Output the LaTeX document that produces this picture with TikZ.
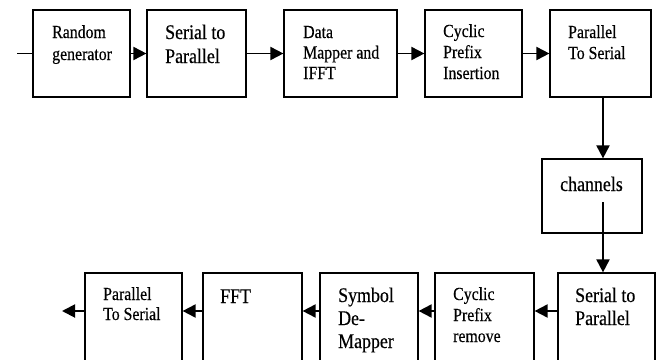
\documentclass[tikz,border=0pt]{standalone}
\usepackage{fontspec}
\setmainfont[FakeStretch=0.86,FakeBold=0.4]{Liberation Serif}
\usetikzlibrary{arrows.meta}

% stacked lines with the first baseline as the node's base
\newcommand\rows[1]{\vtop{#1}}

\begin{document}
\begin{tikzpicture}[x=1pt,y=-1pt,
  blk/.style={draw, line width=1.2pt, rectangle, inner sep=0pt},
  arr/.style={line width=1.9pt, -{Triangle[length=13pt,width=13pt]}},
  wire/.style={line width=1.3pt},
  txt/.style={anchor=base west, inner sep=0pt},
  small/.style={font=\fontsize{18.4}{21}\selectfont},
  big/.style={font=\fontsize{20.8}{24}\selectfont}]

\clip (0,0) rectangle (659,359);

% transmitter chain (top row)
\node[blk, minimum width=97pt,  minimum height=87pt] (rg)  at (81.5,53.5)  {};
\node[blk, minimum width=99pt,  minimum height=87pt] (sp)  at (196.5,53.5) {};
\node[blk, minimum width=113pt, minimum height=87pt] (map) at (340.5,53.5) {};
\node[blk, minimum width=97pt,  minimum height=87pt] (cpi) at (473.5,53.5) {};
\node[blk, minimum width=101pt, minimum height=87pt] (ps)  at (600.5,53.5) {};

% channel
\node[blk, minimum width=100pt, minimum height=74pt] (ch) at (592,196) {};

% receiver chain (bottom row, boxes run past the lower edge)
\node[blk, minimum width=97pt,  minimum height=120pt] (psR)  at (133.5,333) {};
\node[blk, minimum width=99pt,  minimum height=120pt] (fft)  at (252.5,333) {};
\node[blk, minimum width=98pt,  minimum height=120pt] (dem)  at (369,333)   {};
\node[blk, minimum width=99pt,  minimum height=120pt] (cpr)  at (484.5,333) {};
\node[blk, minimum width=97pt,  minimum height=120pt] (spR)  at (606.5,333) {};

% labels
\node[txt, font=\fontsize{18.4}{22}\selectfont] (trg) at (52,38) {\rows{\hbox{Random}\hbox{generator}}};
\node[txt, big] (tsp) at (165,39) {\rows{\hbox{Serial to}\hbox{Parallel}}};
\node[txt, font=\fontsize{18.4}{20.5}\selectfont] (tmap) at (303,38) {\rows{\hbox{Data}\hbox{Mapper and}\hbox{IFFT}}};
\node[txt, small] (tcpi) at (443,37) {\rows{\hbox{Cyclic}\hbox{Prefix}\hbox{Insertion}}};
\node[txt, small] (tps) at (568,38) {\rows{\hbox{Parallel}\hbox{To Serial}}};
\node[txt, big] (tch) at (560,191) {channels};
\node[txt, font=\fontsize{18.4}{20}\selectfont] (tpsR) at (103,300) {\rows{\hbox{Parallel}\hbox{To Serial}}};
\node[txt, big] (tfft) at (220,303) {FFT};
\node[txt, font=\fontsize{20.8}{23}\selectfont] (tdem) at (338,302) {\rows{\hbox{Symbol}\hbox{De-}\hbox{Mapper}}};
\node[txt, small] (tcpr) at (453,300) {\rows{\hbox{Cyclic}\hbox{Prefix}\hbox{remove}}};
\node[txt, font=\fontsize{20.8}{23}\selectfont] (tspR) at (575,302) {\rows{\hbox{Serial to}\hbox{Parallel}}};

% free ends and guide coordinates
\coordinate (in)   at (17,53.5);
\coordinate (out)  at (62,311);
\coordinate (row)  at (0,311);
\coordinate (vx)   at (603,0);
\coordinate (chin) at (603,202);

% connectors
\draw[wire] (in) -- (rg.west);
\draw[arr] (rg.east) -- (sp.west);
\draw[arr] (sp.east) -- (map.west);
\draw[arr] (map.east) -- (cpi.west);
\draw[arr] (cpi.east) -- (ps.west);
\draw[arr] (ps.south -| vx) -- (ch.north -| vx);
\draw[arr] (chin) -- (spR.north -| chin);
\draw[arr] (spR.west |- row) -- (cpr.east |- row);
\draw[arr] (cpr.west |- row) -- (dem.east |- row);
\draw[arr] (dem.west |- row) -- (fft.east |- row);
\draw[arr] (fft.west |- row) -- (psR.east |- row);
\draw[arr] (psR.west |- row) -- (out);
\end{tikzpicture}
\end{document}
